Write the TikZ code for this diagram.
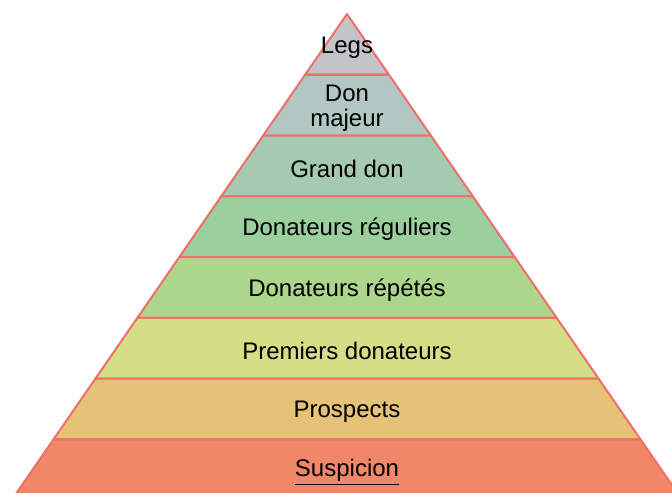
\documentclass[tikz,border=0pt]{standalone}
\usepackage{fontspec}
\setmainfont{Liberation Sans}
\definecolor{edge}{HTML}{EE6F6C}
\definecolor{cA}{HTML}{C3C3C8}
\definecolor{cB}{HTML}{B2C7C2}
\definecolor{cC}{HTML}{A6C9B1}
\definecolor{cD}{HTML}{9BCF9D}
\definecolor{cE}{HTML}{ADD68D}
\definecolor{cF}{HTML}{D5DD86}
\definecolor{cG}{HTML}{E6C276}
\definecolor{cH}{HTML}{EF8768}
\begin{document}
\begin{tikzpicture}[x=0.5pt,y=-0.5pt,
  layerbox/.style={draw=edge, line width=1pt, line join=round},
  lbl/.style={font=\fontsize{12}{12.6}\selectfont, align=center, text=black, inner sep=0pt}]
\useasboundingbox (0,0) rectangle (672,492);
\begin{scope}
\clip (0,0) rectangle (672,492);
\foreach \i/\c in {0/cA,1/cB,2/cC,3/cD,4/cE,5/cF,6/cG,7/cH} {
  \pgfmathsetmacro\yt{14+60.75*\i}
  \pgfmathsetmacro\yb{14+60.75*(\i+1)}
  \pgfmathsetmacro\wt{0.69*(\yt-14)}
  \pgfmathsetmacro\wb{0.69*(\yb-14)}
  \filldraw[layerbox, fill=\c] ({347-\wt},\yt) -- ({347+\wt},\yt) -- ({347+\wb},\yb) -- ({347-\wb},\yb) -- cycle;
}
\end{scope}
\node[lbl] (legs) at (347,47.5) {Legs};
\node[lbl] (majeur) at (347,108.5) {Don\\majeur};
\node[lbl] (grand) at (347,169) {Grand don};
\node[lbl] (reg) at (347,229.5) {Donateurs réguliers};
\node[lbl] (rep) at (347,290.5) {Donateurs répétés};
\node[lbl] (prem) at (347,351) {Premiers donateurs};
\node[lbl] (pros) at (347,411.5) {Prospects};
\node[lbl] (susp) at (347,472) {\underline{Suspicion}};
\end{tikzpicture}
\end{document}
